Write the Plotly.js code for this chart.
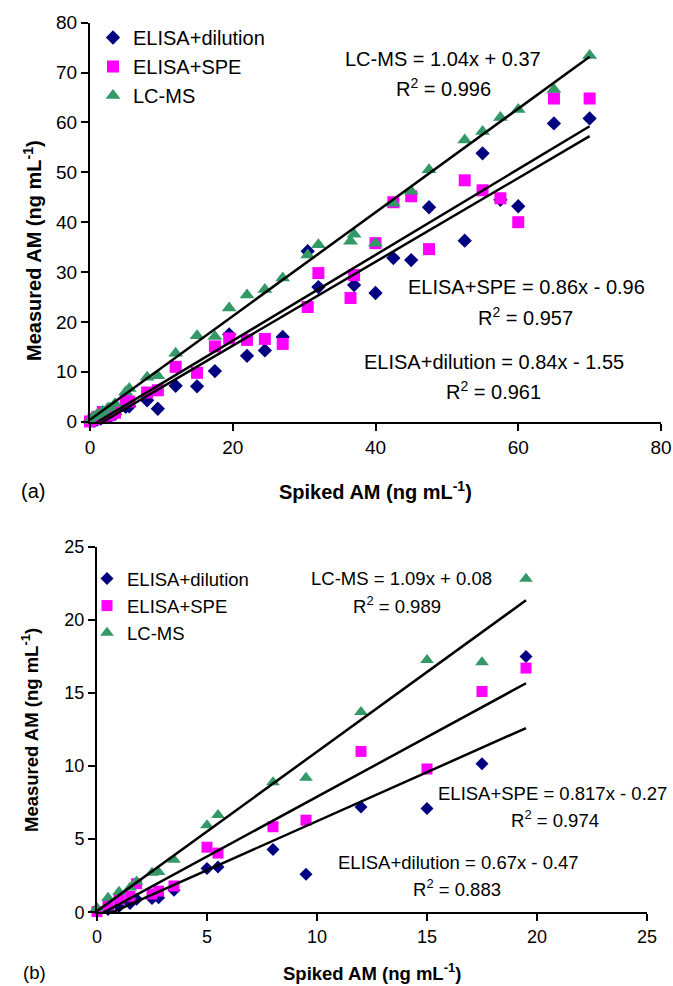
<!DOCTYPE html>
<html>
<head>
<meta charset="utf-8">
<script src="https://cdn.plot.ly/plotly-3.0.1.min.js"></script>
<style>html,body{margin:0;padding:0;background:#fff;}#chart{width:673px;height:986px;}</style>
</head>
<body>
<div id="chart"></div>
<script>
// ---------- DATA ----------
var seriesNames = ["ELISA+dilution", "ELISA+SPE", "LC-MS"];

// Panel (a)
var spikedA = [0, 0.5, 1, 1.5, 1.8, 2.5, 2.8, 3.5, 5, 5.5, 8, 9.5, 12, 15, 17.5, 19.5,
               22, 24.5, 27, 30.5, 32, 36.5, 37, 40, 42.5, 45, 47.5, 52.5, 55, 57.5, 60, 65, 70];
var dilutionA = [0.1, 0.2, 0.4, 0.6, 0.9, 0.95, 1.0, 1.5, 3.0, 3.1, 4.3, 2.6, 7.2, 7.1, 10.15, 17.5,
                 13.2, 14.3, 17.0, 34.2, 27.0, null, 27.4, 25.8, 32.8, 32.4, 43.0, 36.3, 53.8, 44.5, 43.2, 59.8, 60.8];
var speA = [0.05, 0.5, 0.9, 1.1, 1.95, 1.25, 1.45, 1.8, 4.45, 4.05, 5.85, 6.3, 11.0, 9.8, 15.1, 16.7,
            16.4, 16.6, 15.6, 23.0, 29.8, 24.8, 29.4, 35.8, 44.0, 45.2, 34.6, 48.4, 46.4, 44.8, 40.0, 64.8, 64.8];
var lcmsA = [0.3, 1.0, 1.4, 1.7, 2.1, 2.7, 2.75, 3.6, 5.95, 6.65, 8.9, 9.2, 13.7, 17.25, 17.1, 22.8,
             25.4, 26.5, 28.8, 33.4, 35.5, 36.2, 37.6, 35.8, 43.8, 46.2, 50.5, 56.5, 58.2, 61.0, 62.6, 66.6, 73.4];
var slopesA = [0.84, 0.86, 1.04];
var interceptsA = [-1.55, -0.96, 0.37];
var eqA = ["ELISA+dilution = 0.84x - 1.55", "ELISA+SPE = 0.86x - 0.96", "LC-MS = 1.04x + 0.37"];
var r2A = ["0.961", "0.957", "0.996"];

// Panel (b)
var spikedB = [0, 0.5, 1, 1.5, 1.8, 2.5, 2.8, 3.5, 5, 5.5, 8, 9.5, 12, 15, 17.5, 19.5];
var dilutionB = [0.1, 0.2, 0.4, 0.6, 0.9, 0.95, 1.0, 1.5, 3.0, 3.1, 4.3, 2.6, 7.2, 7.1, 10.15, 17.5];
var speB = [0.05, 0.5, 0.9, 1.1, 1.95, 1.25, 1.45, 1.8, 4.45, 4.05, 5.85, 6.3, 11.0, 9.8, 15.1, 16.7];
var lcmsB = [0.3, 1.0, 1.4, 1.7, 2.1, 2.7, 2.75, 3.6, 5.95, 6.65, 8.9, 9.2, 13.7, 17.25, 17.1, 22.8];
var slopesB = [0.67, 0.817, 1.09];
var interceptsB = [-0.47, -0.27, 0.08];
var eqB = ["ELISA+dilution = 0.67x - 0.47", "ELISA+SPE = 0.817x - 0.27", "LC-MS = 1.09x + 0.08"];
var r2B = ["0.883", "0.974", "0.989"];

// ---------- STYLE ----------
var FONT = "Liberation Sans, Arial, sans-serif";
var W = 673, H = 986;
function px(x){ return x / W; }
function py(y){ return 1 - y / H; }
var colors = ["#000080", "#ff00ff", "#339966"];
var symbols = ["diamond", "square", "triangle-up"];
var sizesA = [11, 12, 13];
var sizesB = [10, 11, 12];

var traces = [];
function addPanel(xs, ys, slopes, ints, xa, ya, legendId, sizes){
  for (var i = 0; i < 3; i++){
    traces.push({
      type: "scatter", mode: "markers", x: xs, y: ys[i], name: seriesNames[i],
      xaxis: xa, yaxis: ya, legend: legendId, cliponaxis: false,
      marker: {symbol: symbols[i], color: colors[i], size: sizes[i], line: {width: 0}},
      hoverinfo: "skip"
    });
  }
  var xmin = Math.min.apply(null, xs), xmax = Math.max.apply(null, xs);
  for (var j = 0; j < 3; j++){
    traces.push({
      type: "scatter", mode: "lines", x: [xmin, xmax],
      y: [slopes[j] * xmin + ints[j], slopes[j] * xmax + ints[j]],
      xaxis: xa, yaxis: ya, showlegend: false,
      line: {color: "#000", width: 2.5}, hoverinfo: "skip"
    });
  }
}
addPanel(spikedA, [dilutionA, speA, lcmsA], slopesA, interceptsA, "x", "y", "legend", sizesA);
addPanel(spikedB, [dilutionB, speB, lcmsB], slopesB, interceptsB, "x2", "y2", "legend2", sizesB);

function axis(domain, range, dtick, anchor, fs){
  return {
    domain: domain, range: range, dtick: dtick, tick0: 0, anchor: anchor,
    showline: true, linecolor: "#000", linewidth: 2,
    ticks: "outside", ticklen: 7, tickwidth: 2, tickcolor: "#000",
    showgrid: false, zeroline: false, fixedrange: true,
    tickfont: {family: FONT, size: fs, color: "#000"}
  };
}

var annotations = [];
function ann(text, x, y, size, bold, angle){
  annotations.push({
    text: bold ? "<b>" + text + "</b>" : text,
    xref: "paper", yref: "paper", x: px(x), y: py(y),
    xanchor: "center", yanchor: "middle", showarrow: false,
    textangle: angle || 0,
    font: {family: FONT, size: size, color: "#000"}
  });
}
// panel (a) equations
ann(eqA[2], 443, 59, 20); ann("R<sup>2</sup> = " + r2A[2], 443, 88, 20);
ann(eqA[1], 526, 287, 20); ann("R<sup>2</sup> = " + r2A[1], 525, 316, 20);
ann(eqA[0], 494, 362, 20); ann("R<sup>2</sup> = " + r2A[0], 494, 390, 20);
// panel (b) equations
ann(eqB[2], 401, 578, 18.5); ann("R<sup>2</sup> = " + r2B[2], 397, 605, 18.5);
ann(eqB[1], 552, 793, 18.5); ann("R<sup>2</sup> = " + r2B[1], 555, 819, 18.5);
ann(eqB[0], 458, 862, 18.5); ann("R<sup>2</sup> = " + r2B[0], 457, 888, 18.5);
// axis titles
ann("Measured AM (ng mL<sup>-1</sup>)", 32, 251, 20, true, -90);
ann("Spiked AM (ng mL<sup>-1</sup>)", 375, 491, 20, true);
ann("(a)", 33, 491, 20);
ann("Measured AM (ng mL<sup>-1</sup>)", 30, 730, 18.5, true, -90);
ann("Spiked AM (ng mL<sup>-1</sup>)", 372, 972, 18.5, true);
ann("(b)", 34, 972, 18.5);

var layout = {
  width: W, height: H,
  margin: {l: 0, r: 0, t: 0, b: 0},
  paper_bgcolor: "#fff", plot_bgcolor: "rgba(0,0,0,0)",
  showlegend: true,
  xaxis: axis([px(90), px(661)], [0, 80], 20, "y", 19),
  yaxis: axis([py(421.7), py(22.7)], [0, 80], 10, "x", 19),
  xaxis2: axis([px(97), px(647)], [0, 25], 5, "y2", 18),
  yaxis2: axis([py(912.3), py(546.7)], [0, 25], 5, "x2", 18),
  legend: {x: px(93), y: py(18), xanchor: "left", yanchor: "top",
           bgcolor: "rgba(0,0,0,0)", borderwidth: 0,
           font: {family: FONT, size: 20, color: "#000"}},
  legend2: {x: px(87), y: py(560), xanchor: "left", yanchor: "top",
            bgcolor: "rgba(0,0,0,0)", borderwidth: 0,
            font: {family: FONT, size: 18.5, color: "#000"}},
  annotations: annotations
};

Plotly.newPlot("chart", traces, layout, {staticPlot: true, displayModeBar: false});
</script>
</body>
</html>
